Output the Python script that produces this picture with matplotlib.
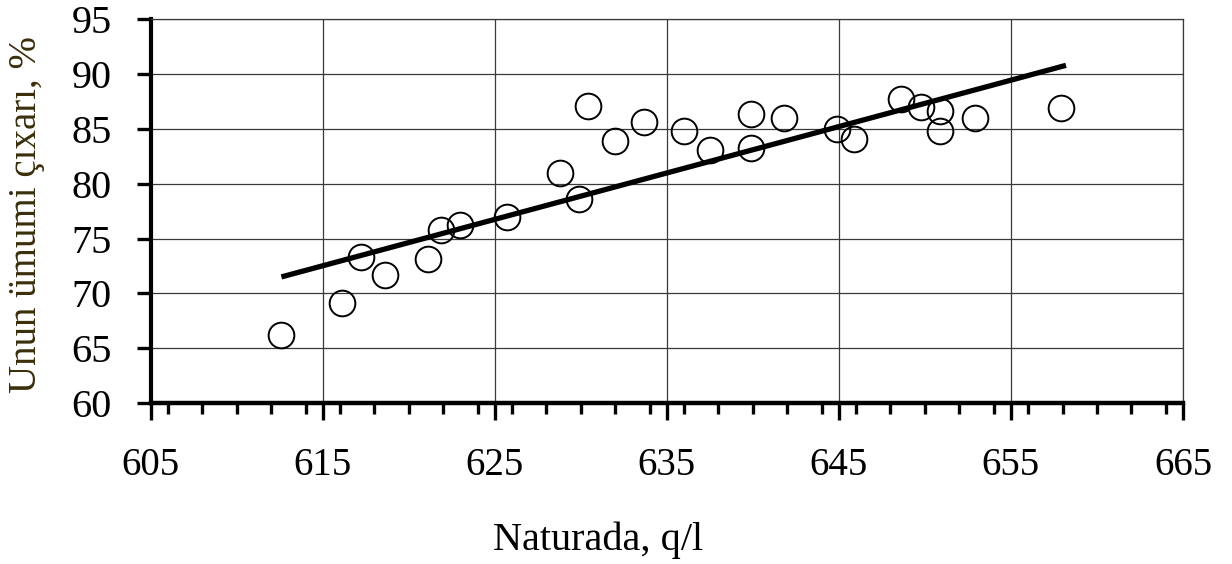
import matplotlib
matplotlib.use("Agg")
import matplotlib.pyplot as plt
from matplotlib.ticker import MultipleLocator, FixedLocator

# Data
naturada = [612.6, 616.1, 617.2, 618.6, 621.1, 621.9, 623.0, 625.7, 628.8, 629.9,
            630.4, 632.0, 633.7, 636.0, 637.5, 639.9, 639.9, 641.8, 644.9, 645.9,
            648.6, 649.8, 650.9, 650.9, 652.9, 657.9]
cixar = [66.2, 69.1, 73.3, 71.7, 73.1, 75.8, 76.2, 77.0, 81.0, 78.6,
         87.1, 83.9, 85.6, 84.8, 83.1, 86.4, 83.3, 86.0, 85.0, 84.1,
         87.7, 87.0, 86.6, 84.8, 86.0, 86.9]
trend_x = [612.6, 658.2]
trend_y = [71.5, 90.8]

x_ticks = [605, 615, 625, 635, 645, 655, 665]
y_ticks = [60, 65, 70, 75, 80, 85, 90, 95]

plt.rcParams['font.family'] = ['Liberation Serif', 'DejaVu Serif']

fig = plt.figure(figsize=(12.32, 5.64), dpi=100)
ax = fig.add_axes([0.1223, 0.2855, 0.8379, 0.6803])

ax.set_xlim(605, 665)
ax.set_ylim(60, 95)

ax.grid(True, which='major', color='#3a3a3a', linewidth=0.9)
ax.set_axisbelow(True)

ax.plot(trend_x, trend_y, color='black', linewidth=3.8, solid_capstyle='butt', zorder=3)
ax.plot(naturada, cixar, linestyle='none', marker='o', markersize=18.5,
        markerfacecolor='none', markeredgecolor='black', markeredgewidth=1.4, zorder=4)

ax.xaxis.set_major_locator(FixedLocator(x_ticks))
ax.xaxis.set_minor_locator(MultipleLocator(2))
ax.yaxis.set_major_locator(FixedLocator(y_ticks))

ax.spines['left'].set_linewidth(3.0)
ax.spines['bottom'].set_linewidth(3.2)
for s in ('top', 'right'):
    ax.spines[s].set_linewidth(0.9)
    ax.spines[s].set_color('#3a3a3a')

ax.tick_params(axis='x', which='major', direction='out', length=12, width=2.4,
               pad=20, labelsize=28, color='black')
ax.tick_params(axis='x', which='minor', direction='out', length=8, width=2.4, color='black')
ax.tick_params(axis='y', which='major', direction='out', length=10, width=2.4,
               pad=18, labelsize=29, color='black')

ax.set_xlabel('Naturada, q/l', fontsize=29, color='black')
ax.xaxis.set_label_coords(0.433, -0.31)
ax.xaxis.label.set_va('top')
ax.set_ylabel('Unun ümumi çıxarı, %', fontsize=28, color='#3a2f0b')
ax.yaxis.set_label_coords(-0.102, 0.49)

fig.savefig('out.png', dpi=100)
